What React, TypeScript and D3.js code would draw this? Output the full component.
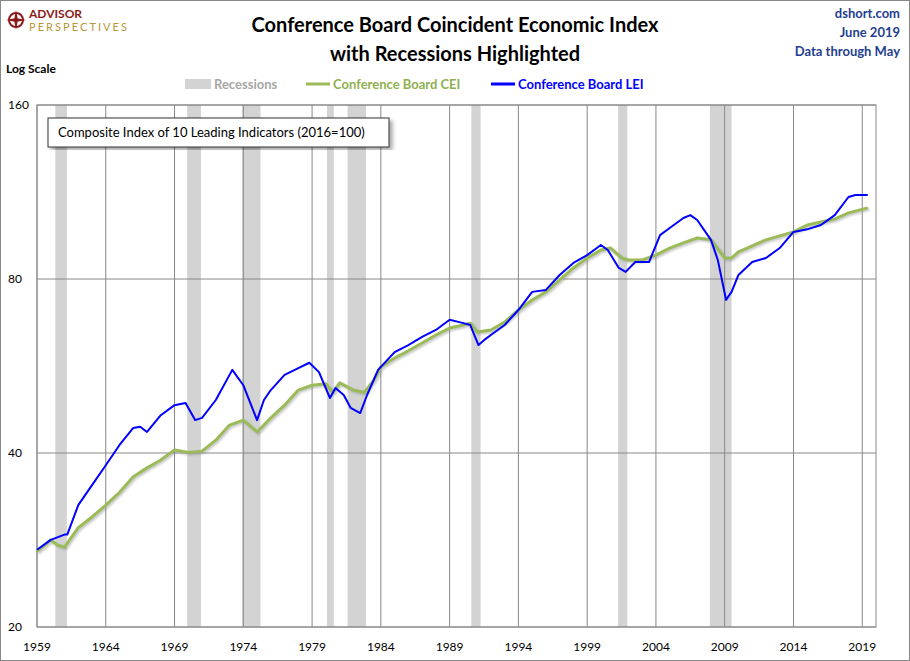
import * as d3 from 'd3';

// LEI (blue)
const leiYears = [1959, 1960, 1961, 1961.2, 1962, 1963, 1964, 1965, 1966, 1966.5, 1967, 1968, 1969, 1969.8, 1970.5, 1971, 1972, 1973.2, 1974, 1975, 1975.5, 1976, 1977, 1978, 1978.8, 1979.5, 1980.3, 1980.7, 1981.3, 1981.8, 1982.5, 1983, 1983.8, 1985, 1986, 1987, 1988, 1989, 1990, 1990.5, 1991.1, 1991.5, 1992, 1993, 1994, 1995, 1996, 1997, 1998, 1999, 2000, 2000.5, 2001.3, 2001.8, 2002.5, 2003.5, 2004.3, 2005, 2006, 2006.5, 2007, 2008, 2008.5, 2009.1, 2009.5, 2010, 2011, 2012, 2013, 2014, 2015, 2016, 2017, 2018, 2018.5, 2019.4];
const leiValues = [27.2, 28.3, 28.9, 28.9, 32.5, 35.2, 38.1, 41.3, 44.2, 44.4, 43.5, 46.5, 48.4, 48.8, 45.6, 46.0, 49.4, 55.7, 52.4, 45.6, 49.4, 51.4, 54.6, 56.1, 57.3, 55.2, 49.8, 51.8, 50.4, 47.9, 46.9, 50.4, 55.7, 59.8, 61.5, 63.5, 65.3, 68.0, 67.1, 66.6, 61.5, 62.7, 64.0, 66.6, 70.7, 76.0, 76.6, 81.3, 85.3, 88.0, 91.6, 89.8, 83.6, 82.3, 85.6, 85.6, 95.3, 98.0, 102.0, 103.2, 101.2, 93.5, 86.3, 73.6, 76.0, 81.3, 85.6, 87.0, 90.5, 96.5, 97.5, 99.2, 103.2, 110.9, 111.8, 111.8];

// CEI (green)
const ceiYears = [1959, 1960, 1960.5, 1961, 1962, 1963, 1964, 1965, 1966, 1967, 1968, 1969, 1970, 1971, 1972, 1973, 1974, 1975, 1976, 1977, 1978, 1979, 1980, 1980.5, 1981, 1982, 1982.8, 1983.5, 1984, 1985, 1986, 1987, 1988, 1989, 1990, 1990.5, 1991, 1992, 1993, 1994, 1995, 1996, 1997, 1998, 1999, 2000, 2000.7, 2001.5, 2002, 2003, 2004, 2005, 2006, 2007, 2008, 2009, 2009.5, 2010, 2011, 2012, 2013, 2014, 2015, 2016, 2017, 2018, 2019.4];
const ceiValues = [27.0, 28.3, 27.7, 27.5, 29.7, 31.0, 32.5, 34.2, 36.4, 37.7, 38.9, 40.5, 40.1, 40.3, 42.1, 44.7, 45.6, 43.5, 46.0, 48.4, 51.4, 52.4, 52.7, 50.9, 52.9, 51.4, 50.9, 53.5, 56.4, 58.4, 60.1, 62.0, 64.0, 65.8, 66.6, 67.1, 64.8, 65.3, 67.4, 70.7, 73.6, 76.0, 79.7, 83.6, 87.0, 89.8, 90.5, 87.0, 86.3, 86.3, 88.0, 90.5, 92.4, 94.2, 93.5, 87.0, 87.0, 89.1, 91.3, 93.5, 95.0, 96.5, 99.2, 100.4, 101.6, 104.1, 106.2];

const recessionStarts = [1960.33, 1969.92, 1973.92, 1980.08, 1981.58, 1990.58, 2001.25, 2007.92];
const recessionEnds = [1961.17, 1970.92, 1975.25, 1980.58, 1982.92, 1991.25, 2001.92, 2009.5];

const xTicks = d3.range(1959, 2020, 5);
const yTicks = [20, 40, 80, 160];

const W = 910, H = 661;
const L = 37, R = 876, T = 105, B = 627;
const font = 'Lato, "Open Sans", sans-serif';

export default function App() {
  const x = d3.scaleLinear().domain([1959, 2020]).range([L, R]);
  const y = d3.scaleLog().domain([20, 160]).range([B, T]);
  const line = d3.line<[number, number]>().x(d => x(d[0])).y(d => y(d[1]));
  const lei = line(leiYears.map((v, i) => [v, leiValues[i]]) as [number, number][]) || '';
  const cei = line(ceiYears.map((v, i) => [v, ceiValues[i]]) as [number, number][]) || '';

  return (
    <svg width={W} height={H} style={{ position: 'absolute', left: 0, top: 0, fontFamily: font }}>
      <defs>
        <filter id="soft" x="-5%" y="-5%" width="110%" height="110%">
          <feGaussianBlur stdDeviation="1.2" />
        </filter>
        <filter id="boxshadow">
          <feDropShadow dx="3" dy="3" stdDeviation="2" floodOpacity="0.35" />
        </filter>
      </defs>
      <rect x={0.5} y={0.5} width={W - 1} height={H - 1} fill="#fff" stroke="#888" />

      {/* logo */}
      <g transform="translate(16,20)">
        <circle r={7} fill="#fff" stroke="#8b1a1a" strokeWidth={2} />
        <path d="M0,-10 L2,0 L0,10 L-2,0Z M-10,0 L0,-2 L10,0 L0,2Z" fill="#8b1a1a" />
      </g>
      <text x={29} y={18} fontSize={12} fontWeight="bold" fill="#8b1a1a">ADVISOR</text>
      <text x={29} y={31} fontSize={11} fill="#b8973a" textLength={98}>PERSPECTIVES</text>

      <text x={455} y={32} textAnchor="middle" fontSize={20} fontWeight="bold" fill="#000">Conference Board Coincident Economic Index</text>
      <text x={455} y={61} textAnchor="middle" fontSize={20} fontWeight="bold" fill="#000">with Recessions Highlighted</text>
      <g fontSize={13} fill="#1f3f8f" fontWeight="bold" textAnchor="end">
        <text x={900} y={18}>dshort.com</text>
        <text x={900} y={37}>June 2019</text>
        <text x={900} y={56}>Data through May</text>
      </g>
      <text x={6} y={73} fontSize={12} fontWeight="bold">Log Scale</text>

      {/* legend */}
      <rect x={185} y={79} width={26} height={10} fill="#d3d3d3" />
      <text x={214} y={89} fontSize={13} fill="#a6a6a6" fontWeight="bold">Recessions</text>
      <line x1={306} x2={330} y1={84} y2={84} stroke="#9bbb59" strokeWidth={3} />
      <text x={333} y={89} fontSize={13} fill="#8fb04f" fontWeight="bold">Conference Board CEI</text>
      <line x1={491} x2={515} y1={84} y2={84} stroke="#0000ff" strokeWidth={3} />
      <text x={518} y={89} fontSize={13} fill="#0000ff" fontWeight="bold">Conference Board LEI</text>

      {/* recessions */}
      {recessionStarts.map((s, i) => (
        <rect key={i} x={x(s)} y={T} width={x(recessionEnds[i]) - x(s)} height={B - T} fill="#d3d3d3" />
      ))}

      {/* grid */}
      {xTicks.map(t => (
        <g key={t}>
          <line x1={x(t)} x2={x(t)} y1={T} y2={B} stroke="#888" />
          <text x={x(t)} y={651} fontSize={12} textAnchor="middle">{t}</text>
        </g>
      ))}
      {yTicks.map(t => (
        <g key={t}>
          <line x1={L} x2={R} y1={y(t)} y2={y(t)} stroke="#888" />
          <text x={8} y={y(t) + 4} fontSize={12}>{t}</text>
        </g>
      ))}
      <rect x={L} y={T} width={R - L} height={B - T} fill="none" stroke="#888" />

      <path d={cei} fill="none" stroke="#888" strokeOpacity={0.5} strokeWidth={3} transform="translate(1.5,1.5)" filter="url(#soft)" />
      <path d={cei} fill="none" stroke="#9bbb59" strokeWidth={3} strokeLinejoin="round" />
      <path d={lei} fill="none" stroke="#0000ff" strokeWidth={2} strokeLinejoin="round" />

      <rect x={48} y={118} width={341} height={29} fill="#fff" stroke="#333" filter="url(#boxshadow)" />
      <text x={58} y={137} fontSize={13}>Composite Index of 10 Leading Indicators (2016=100)</text>
    </svg>
  );
}
